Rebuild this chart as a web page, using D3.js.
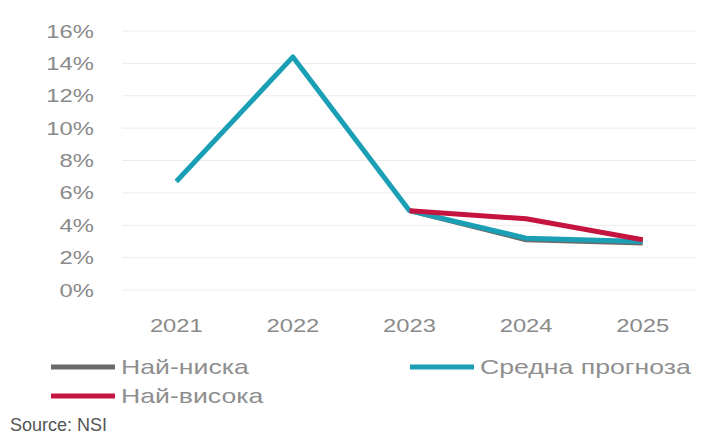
<!DOCTYPE html>
<html lang="bg">
<head>
<meta charset="UTF-8">
<title>Inflation forecast</title>
<script src="https://cdn.jsdelivr.net/npm/d3@7/dist/d3.min.js"></script>
<style>
    body { margin: 0; background: #fff; }
    text { font-family: "Liberation Sans", Arial, sans-serif; }
</style>
</head>
<body>
<script>
    // data
    const years = ["2021", "2022", "2023", "2024", "2025"];
    const yTicks = [0, 2, 4, 6, 8, 10, 12, 14, 16];
    const avgForecast = [6.7, 14.4, 4.9, 3.2, 3.0];
    const highForecast = [null, null, 4.9, 4.4, 3.1];
    const lowForecast = [null, null, 4.9, 3.1, 2.9];
    const seriesNames = ["Най-ниска", "Средна прогноза", "Най-висока"];

    const width = 702, height = 435;
    const stretch = 1.25;   // chart text is horizontally stretched in the original

    const svg = d3.select("body").append("svg")
        .attr("width", width)
        .attr("height", height);

    const x = d3.scaleBand().domain(years).range([118, 701]).paddingInner(0);
    const y = d3.scaleLinear().domain([0, 16]).range([290, 31]);

    // gridlines
    svg.append("g").selectAll("line")
        .data(yTicks)
        .enter().append("line")
        .attr("x1", 122).attr("x2", 696)
        .attr("y1", d => y(d)).attr("y2", d => y(d))
        .attr("stroke", "#ececec")
        .attr("stroke-width", 1);

    // y axis
    const yAxis = svg.append("g")
        .attr("transform", "translate(100,0)")
        .call(d3.axisLeft(y).tickValues(yTicks).tickSize(0).tickPadding(5).tickFormat(d => d + "%"));
    yAxis.select(".domain").remove();
    yAxis.selectAll("text")
        .attr("transform", `scale(${stretch},1)`)
        .style("font-size", "19px")
        .attr("fill", "#8a8a8a");

    // x axis
    const xAxis = svg.append("g")
        .attr("transform", "translate(0,290)")
        .call(d3.axisBottom(x).tickSize(0).tickPadding(29));
    xAxis.select(".domain").remove();
    xAxis.selectAll("text")
        .attr("transform", `scale(${stretch},1)`)
        .style("font-size", "19px")
        .attr("fill", "#8a8a8a");

    const line = d3.line()
        .defined(d => d != null)
        .x((d, i) => x(years[i]) + x.bandwidth() / 2)
        .y(d => y(d));

    const series = [
        { values: lowForecast, color: "#6b6b6b" },
        { values: avgForecast, color: "#1a9fb5" },
        { values: highForecast, color: "#c4143f" }
    ];

    svg.append("g").selectAll("path")
        .data(series)
        .enter().append("path")
        .attr("d", d => line(d.values))
        .attr("fill", "none")
        .attr("stroke", d => d.color)
        .attr("stroke-width", 5)
        .attr("stroke-linejoin", "round");

    // legend
    const legend = [
        { name: seriesNames[0], color: "#6b6b6b", lx: 51, ly: 367 },
        { name: seriesNames[1], color: "#1a9fb5", lx: 410, ly: 367 },
        { name: seriesNames[2], color: "#c4143f", lx: 51, ly: 396 }
    ];
    const lg = svg.append("g").selectAll("g")
        .data(legend)
        .enter().append("g")
        .attr("transform", d => `translate(${d.lx},${d.ly})`);
    lg.append("line")
        .attr("x1", 0).attr("x2", 64)
        .attr("stroke", d => d.color)
        .attr("stroke-width", 5);
    lg.append("text")
        .attr("transform", `translate(70,0) scale(1.3,1)`)
        .attr("dy", "0.36em")
        .style("font-size", "20.5px")
        .attr("fill", "#8f8f8f")
        .text(d => d.name);

    svg.append("text")
        .attr("x", 10).attr("y", 431)
        .style("font-size", "18px")
        .attr("fill", "#555")
        .text("Source: NSI");
</script>
</body>
</html>
